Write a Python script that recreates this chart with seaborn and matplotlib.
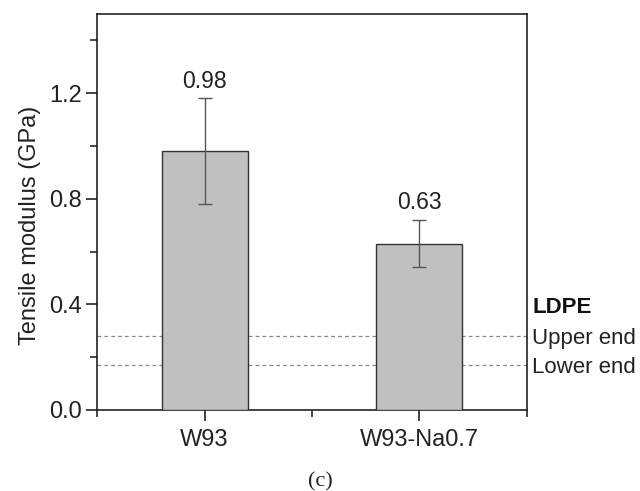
import matplotlib
matplotlib.use("Agg")
import matplotlib.pyplot as plt
import seaborn as sns
import numpy as np
import pandas as pd
from matplotlib.ticker import FixedLocator

categories = ["W93", "W93-Na0.7"]
modulus = [0.98, 0.63]
errors = [0.20, 0.09]
ldpe_upper = 0.28
ldpe_lower = 0.17
ref_labels = ["LDPE", "Upper end", "Lower end"]

sns.set_style("ticks")
plt.rcParams['font.family'] = ['Liberation Sans', 'DejaVu Sans']

fig = plt.figure(figsize=(6.4, 4.91), dpi=100)
ax = fig.add_axes([0.1516, 0.165, 0.6718, 0.8065])

df = pd.DataFrame({"cat": categories, "val": modulus})
sns.barplot(data=df, x="cat", y="val", color="#c0c0c0", saturation=1,
            edgecolor="#333333", linewidth=1.0, width=0.4, ax=ax, zorder=3)
ax.errorbar(range(len(categories)), modulus, yerr=errors, fmt="none",
            ecolor="#555555", elinewidth=1.0, capsize=5, capthick=1.0, zorder=4)

for i, (v, e) in enumerate(zip(modulus, errors)):
    ax.annotate(f"{v:.2f}", (i, v + e), xytext=(0, 4), textcoords="offset points",
                ha="center", va="bottom", fontsize=16.5, color="#222222")

for y in (ldpe_upper, ldpe_lower):
    ax.axhline(y, color="#888888", lw=0.9, ls=(0, (3, 2.5)), zorder=1)

ax.set_xlim(-0.5, 1.5)
ax.set_ylim(0, 1.5)
ax.yaxis.set_major_locator(FixedLocator([0, 0.4, 0.8, 1.2]))
ax.yaxis.set_minor_locator(FixedLocator([0.2, 0.6, 1.0, 1.4]))
ax.set_yticklabels(["0.0", "0.4", "0.8", "1.2"])
ax.xaxis.set_minor_locator(FixedLocator([-0.5, 0.5, 1.5]))
ax.tick_params(axis="both", which="major", direction="out", length=8, width=1.2,
               labelsize=17, colors="#222222")
ax.tick_params(axis="both", which="minor", direction="out", length=5, width=1.2)
ax.tick_params(axis="y", pad=3)
ax.tick_params(axis="x", pad=6)
for s in ax.spines.values():
    s.set_visible(True)
    s.set_linewidth(1.2)
    s.set_color("#222222")

ax.set_xlabel("")
ax.set_ylabel("Tensile modulus (GPa)", fontsize=17, color="#222222", labelpad=6, y=0.467)

tr = ax.get_yaxis_transform()
ax.text(1.012, 0.39, ref_labels[0], transform=tr, fontsize=16, fontweight="bold",
        va="center", ha="left", color="#111111")
ax.text(1.012, ldpe_upper - 0.01, ref_labels[1], transform=tr, fontsize=16,
        va="center", ha="left", color="#222222")
ax.text(1.012, ldpe_lower - 0.01, ref_labels[2], transform=tr, fontsize=16,
        va="center", ha="left", color="#222222")

fig.text(0.5, 0.018, "(c)", ha="center", va="center", fontsize=16,
         family=["Liberation Serif", "DejaVu Serif"], color="#222222")

fig.savefig("out.png", dpi=100)
